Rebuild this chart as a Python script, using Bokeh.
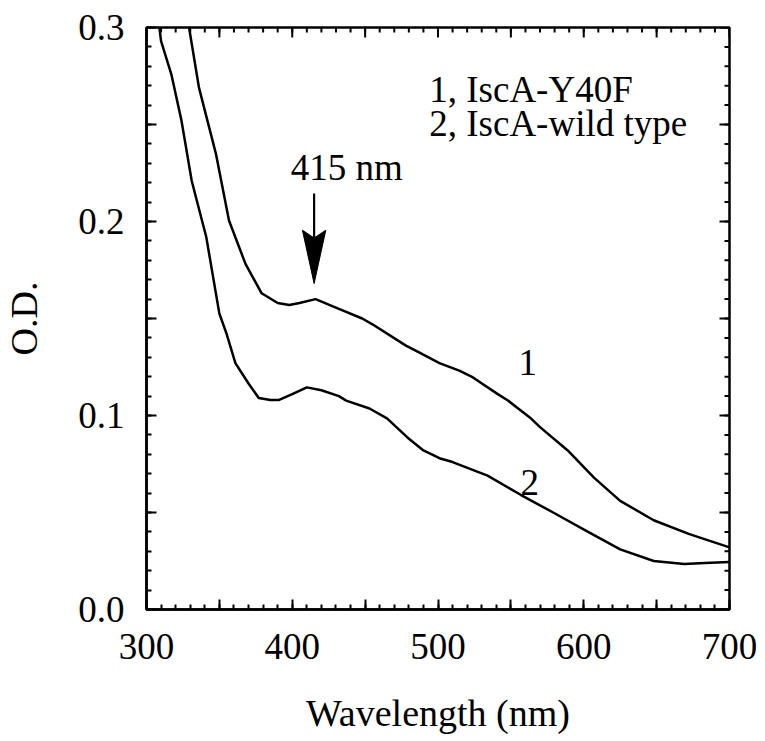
import math
from bokeh.plotting import figure
from bokeh.models import Range1d, FixedTicker, PrintfTickFormatter, Label
from bokeh.embed import file_html
from bokeh.resources import INLINE

# ---- data ----
wl_y40f = [327, 336, 347.6, 356.6, 368, 379, 390, 398, 405, 416, 432, 448, 455,
           478, 487, 501, 515, 524, 541, 548, 563, 570, 589, 607, 625, 648, 672, 700]
od_y40f = [0.310, 0.269, 0.235, 0.2005, 0.178, 0.163, 0.158, 0.157, 0.158, 0.160,
           0.155, 0.150, 0.147, 0.136, 0.1325, 0.127, 0.123, 0.1196, 0.111, 0.1077,
           0.099, 0.094, 0.082, 0.068, 0.056, 0.046, 0.039, 0.032]

wl_wt = [308, 310, 317, 324, 331, 341, 350, 355, 361, 370, 377, 385, 391, 400, 410,
         420, 432, 437, 453, 465, 479, 490, 501, 510, 534, 557, 579, 603, 625, 648,
         669, 683, 700]
od_wt = [0.305, 0.293, 0.276, 0.252, 0.221, 0.192, 0.1525, 0.142, 0.127, 0.1165,
         0.109, 0.108, 0.108, 0.111, 0.1145, 0.113, 0.110, 0.1077, 0.1036, 0.0985,
         0.0887, 0.082, 0.078, 0.076, 0.069, 0.059, 0.050, 0.040, 0.031, 0.025,
         0.0235, 0.024, 0.0245]

x_major = [300, 350, 400, 450, 500, 550, 600, 650, 700]
x_minor = list(range(300, 701, 10))
x_labels = {350: "", 450: "", 550: "", 650: ""}
y_major = [0.0, 0.05, 0.1, 0.15, 0.2, 0.25, 0.3]
y_minor = [i / 100 for i in range(0, 31)]
y_labels = {0.05: "", 0.15: "", 0.25: ""}

peak_wl = 415
peak_label = "415 nm"

FONT = "Liberation Serif"
FS = "37px"
X0, X1, Y0, Y1 = 300, 700, 0.0, 0.3

p = figure(width=757, height=738, output_backend="svg", toolbar_location=None,
           x_range=Range1d(X0, X1), y_range=Range1d(Y0, Y1),
           min_border_left=143, min_border_right=28, min_border_top=27,
           min_border_bottom=129)
p.background_fill_color = "white"
p.border_fill_color = "white"
p.grid.visible = False
p.outline_line_color = "black"
p.outline_line_width = 2.5

xt = FixedTicker(ticks=x_major, minor_ticks=x_minor)
yt = FixedTicker(ticks=y_major, minor_ticks=y_minor)


def style(ax):
    ax.axis_line_width = 2.5
    ax.axis_line_color = "black"
    ax.major_tick_in = 10
    ax.major_tick_out = 0
    ax.minor_tick_in = 5
    ax.minor_tick_out = 0
    ax.major_tick_line_width = 2
    ax.minor_tick_line_width = 2
    ax.major_tick_line_color = "black"
    ax.minor_tick_line_color = "black"
    ax.major_label_text_font = FONT
    ax.major_label_text_font_size = FS
    ax.major_label_text_color = "black"
    ax.axis_label_text_font = FONT
    ax.axis_label_text_font_size = "38px"
    ax.axis_label_text_font_style = "normal"
    ax.axis_label_text_color = "black"


xa = p.xaxis[0]
xa.ticker = xt
xa.major_label_overrides = x_labels
xa.axis_label = "Wavelength (nm)"
style(xa)
xa.major_label_standoff = 24
xa.axis_label_standoff = 30

ya = p.yaxis[0]
ya.ticker = yt
ya.formatter = PrintfTickFormatter(format="%.1f")
ya.major_label_overrides = y_labels
ya.axis_label = "O.D."
style(ya)
ya.major_label_standoff = 22
ya.axis_label_standoff = 30

# inward ticks on the top and right edges (mirrors of the axis ticks)
p.ray(x=x_major, y=[Y1] * len(x_major), length=10, angle=-math.pi / 2,
      length_units="screen", line_color="black", line_width=2)
p.ray(x=x_minor, y=[Y1] * len(x_minor), length=5, angle=-math.pi / 2,
      length_units="screen", line_color="black", line_width=2)
p.ray(x=[X1] * len(y_major), y=y_major, length=10, angle=math.pi,
      length_units="screen", line_color="black", line_width=2)
p.ray(x=[X1] * len(y_minor), y=y_minor, length=5, angle=math.pi,
      length_units="screen", line_color="black", line_width=2)

# curves
p.line(wl_y40f, od_y40f, line_color="black", line_width=2.5)
p.line(wl_wt, od_wt, line_color="black", line_width=2.5)

# arrow at 415 nm
tip = 0.168
head_back = 0.1955
notch = 0.1915
shaft_top = 0.2144
half_w = 8
p.line([peak_wl, peak_wl], [shaft_top, notch], line_color="black", line_width=2.2)
p.patch([peak_wl, peak_wl - half_w, peak_wl, peak_wl + half_w],
        [tip, head_back, notch, head_back], fill_color="black", line_color="black")


def txt(x, y, s, align="left"):
    p.add_layout(Label(x=x, y=y, y_offset=13, text=s, text_font=FONT,
                       text_font_size=FS, text_color="black", text_align=align,
                       text_baseline="alphabetic"))


txt(399, 0.221, peak_label)
txt(494, 0.2613, "1, IscA-Y40F")
txt(494, 0.2438, "2, IscA-wild type")
txt(561.5, 0.1206, "1", align="center")
txt(563, 0.0588, "2", align="center")

open("out.html", "w").write(file_html(p, INLINE))
